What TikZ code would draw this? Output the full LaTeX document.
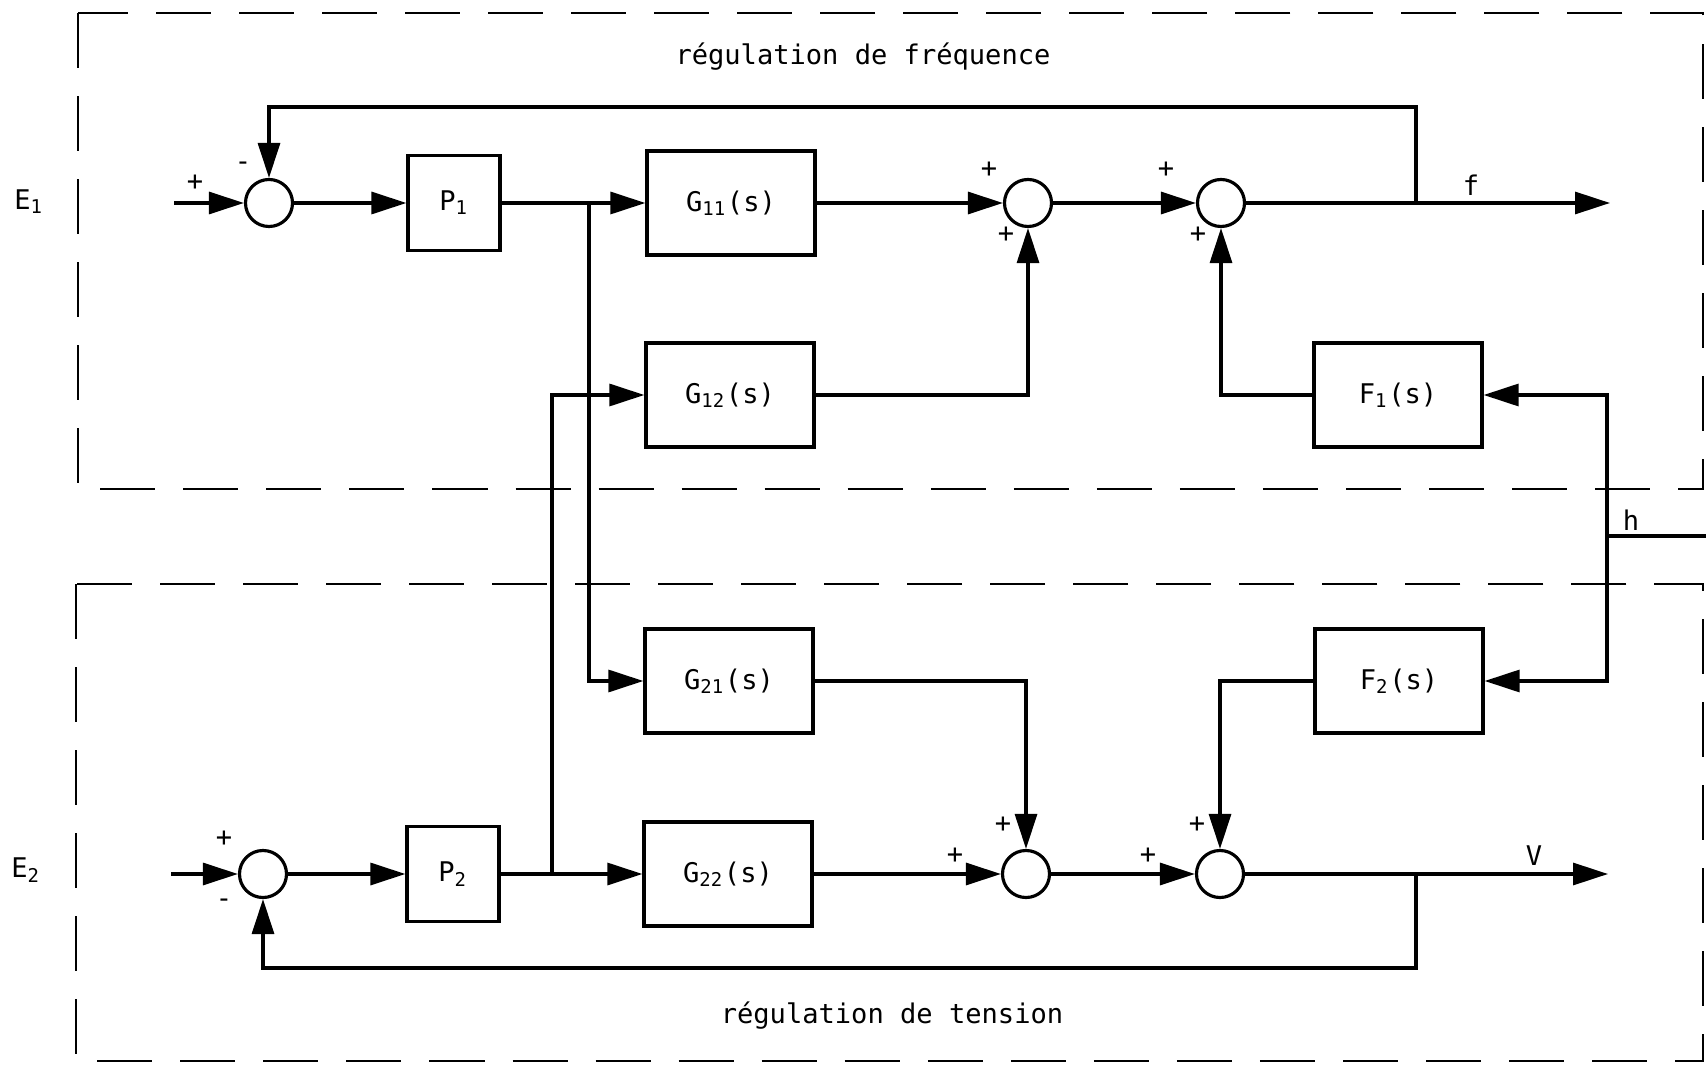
\documentclass[tikz,border=0pt]{standalone}
\usepackage{fontspec}
\setmainfont{DejaVu Sans Mono}
\usetikzlibrary{arrows.meta}

\begin{document}
\begin{tikzpicture}[x=0.01cm, y=-0.01cm, line width=0.9pt, font=\fontsize{7.7}{9.2}\selectfont,
  blk/.style={draw, minimum width=1.68cm, minimum height=1.04cm, inner sep=0pt},
  pblk/.style={draw, minimum width=0.92cm, minimum height=0.95cm, inner sep=0pt},
  sum/.style={draw, circle, minimum size=0.47cm, inner sep=0pt},
  sig/.style={inner sep=0pt},
  frame/.style={dash pattern=on 0.55cm off 0.28cm, line width=0.8pt},
  arr/.style={-{Triangle[length=3.5mm, width=2.2mm]}}]
  \useasboundingbox (0,0) rectangle (1706,1067);
  % Frames
  \draw[frame] (78,13) rectangle (1703,489);
  \draw[frame] (76,584) rectangle (1703,1061);
  \node (tf) at (863,57) {régulation de fréquence};
  \node (tt) at (892,1016) {régulation de tension};
  % Frequency loop
  \node (e1l) at (29,202) {E\textsubscript{1}};
  \coordinate (e1) at (174,203);
  \node[sum] (s1) at (269,203) {};
  \node[pblk] (p1) at (454,203) {P\textsubscript{1}};
  \node[blk] (g11) at (731,203) {G\textsubscript{11}(s)};
  \node[blk] (g12) at (730,395) {G\textsubscript{12}(s)};
  \node[sum] (s2) at (1028,203) {};
  \node[sum] (s3) at (1221,203) {};
  \node[blk] (f1) at (1398,395) {F\textsubscript{1}(s)};
  \coordinate (fout) at (1610,203);
  \node (fl) at (1471,185) {f};
  % Voltage loop
  \node (e2l) at (26,870) {E\textsubscript{2}};
  \coordinate (e2) at (171,874);
  \node[sum] (s4) at (263,874) {};
  \node[pblk] (p2) at (453,874) {P\textsubscript{2}};
  \node[blk] (g21) at (729,681) {G\textsubscript{21}(s)};
  \node[blk] (g22) at (728,874) {G\textsubscript{22}(s)};
  \node[sum] (s5) at (1026,874) {};
  \node[sum] (s6) at (1220,874) {};
  \node[blk] (f2) at (1399,681) {F\textsubscript{2}(s)};
  \coordinate (vout) at (1608,874);
  \node (vl) at (1534,856) {V};
  % Signs
  \node[sig] at ([shift={(-74,-20)}]s1) {+};
  \node[sig] at ([shift={(-26,-37)}]s1) {-};
  \node[sig] at ([shift={(-39,-33)}]s2) {+};
  \node[sig] at ([shift={(-22,32)}]s2) {+};
  \node[sig] at ([shift={(-55,-33)}]s3) {+};
  \node[sig] at ([shift={(-23,32)}]s3) {+};
  \node[sig] at ([shift={(-39,-35)}]s4) {+};
  \node[sig] at ([shift={(-39,29)}]s4) {-};
  \node[sig] at ([shift={(-71,-18)}]s5) {+};
  \node[sig] at ([shift={(-23,-49)}]s5) {+};
  \node[sig] at ([shift={(-72,-18)}]s6) {+};
  \node[sig] at ([shift={(-23,-49)}]s6) {+};
  % Main paths
  \draw[arr] (e1) -- (s1);
  \draw[arr] (s1) -- (p1);
  \draw[arr] (p1) -- (g11);
  \draw[arr] (g11) -- (s2);
  \draw[arr] (s2) -- (s3);
  \draw[arr] (s3) -- (fout);
  \draw[arr] (e2) -- (s4);
  \draw[arr] (s4) -- (p2);
  \draw[arr] (p2) -- (g22);
  \draw[arr] (g22) -- (s5);
  \draw[arr] (s5) -- (s6);
  \draw[arr] (s6) -- (vout);
  % Cross couplings
  \coordinate (b1) at (589,203);
  \coordinate (b2) at (552,874);
  \draw[arr] (b1) |- (g21);
  \draw[arr] (b2) |- (g12);
  \draw[arr] (g12) -| (s2);
  \draw[arr] (g21) -| (s5);
  \draw[arr] (f1) -| (s3);
  \draw[arr] (f2) -| (s6);
  % Disturbance h
  \coordinate (hout) at (1706,536);
  \coordinate (hj) at (1607,536);
  \node (hl) at (1631,520) {h};
  \draw (hout) -- (hj);
  \draw[arr] (hj) |- (f1);
  \draw[arr] (hj) |- (f2);
  % Feedbacks
  \coordinate (ft) at (1416,203);
  \coordinate (fb) at (1416,107);
  \draw[arr] (ft) -- (fb) -| (s1);
  \coordinate (vt) at (1416,874);
  \coordinate (vb) at (1416,968);
  \draw[arr] (vt) -- (vb) -| (s4);
\end{tikzpicture}
\end{document}
